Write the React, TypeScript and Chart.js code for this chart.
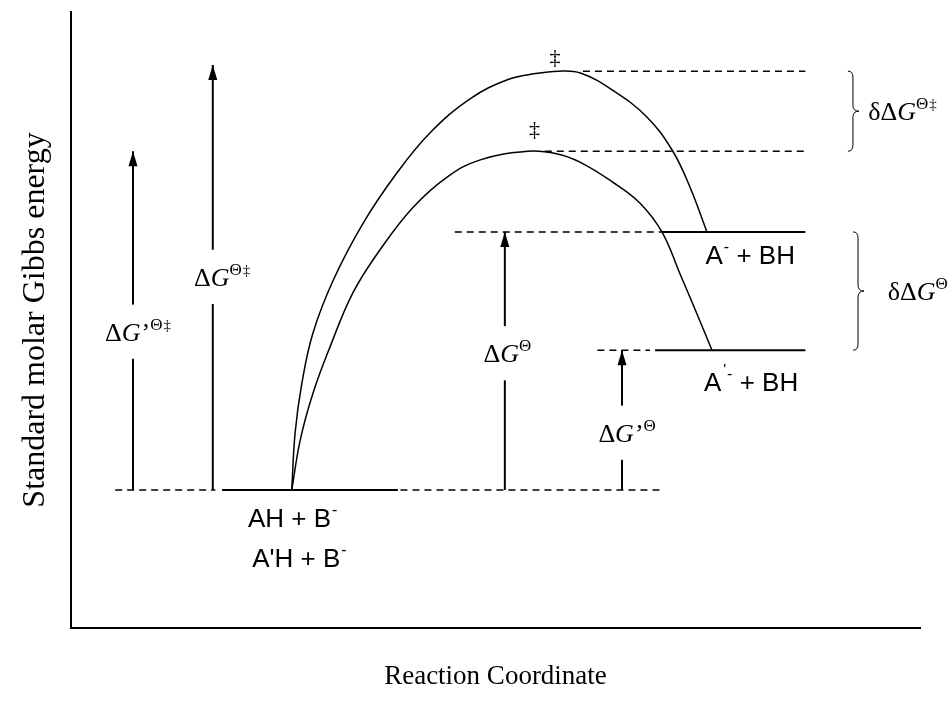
import React, { useEffect, useRef } from 'react';
import { Chart, registerables } from 'chart.js';

Chart.register(...registerables);

// ---- Data (arbitrary energy units on a 0–100 frame; x = reaction coordinate 0–100) ----
const reactantLevel = 22.4;            // AH + B⁻ / A'H + B⁻
const productLevels = [64.3, 45.1];    // A⁻ + BH, A'⁻ + BH
const tsLevels = [90.4, 77.4];         // transition states ‡ (A), ‡ (A')

// Reaction profile through the higher barrier (to A⁻ + BH)
const curveAX = [26.0, 26.4, 27.2, 28.5, 30.9, 34.4, 38.4, 42.3, 47.0, 51.4, 54.7, 57.4, 60.0, 63.8, 67.8, 70.8, 72.9, 74.9];
const curveAY = [22.4, 31.7, 39.8, 47.9, 56.5, 65.7, 73.9, 80.4, 85.9, 89.0, 90.0, 90.4, 90.1, 87.3, 83.0, 77.6, 71.6, 64.3];
// Reaction profile through the lower barrier (to A'⁻ + BH)
const curveBX = [26.0, 27.0, 28.5, 30.5, 33.2, 36.4, 40.3, 44.3, 48.2, 53.8, 57.2, 60.0, 63.8, 67.0, 69.6, 71.7, 73.7, 75.5];
const curveBY = [22.4, 30.5, 38.1, 45.6, 54.4, 61.4, 68.3, 73.2, 76.0, 77.4, 77.0, 75.6, 72.4, 69.0, 64.3, 57.6, 51.1, 45.1];

// Arrows: x position, top value, label centre
const arrowX = [7.3, 16.7, 51.1, 64.9];
const arrowTop = [tsLevels[1], 91.4, productLevels[0], productLevels[1]];
const arrowLabelY = [48.1, 57.0, 44.6, 31.7];
const arrowLabelX = [7.9, 17.8, 51.4, 65.5];

// ---- Layout of the level lines (x extents) ----
const levelSegments = [
  { y: reactantLevel, x0: 5.2, x1: 17.0, dashed: true },
  { y: reactantLevel, x0: 17.8, x1: 38.5, dashed: false },
  { y: reactantLevel, x0: 38.8, x1: 69.4, dashed: true },
  { y: productLevels[0], x0: 45.2, x1: 69.6, dashed: true },
  { y: productLevels[0], x0: 69.6, x1: 86.5, dashed: false },
  { y: productLevels[1], x0: 62.0, x1: 68.2, dashed: true },
  { y: productLevels[1], x0: 68.8, x1: 86.5, dashed: false },
  { y: tsLevels[0], x0: 60.3, x1: 86.5, dashed: true },
  { y: tsLevels[1], x0: 55.8, x1: 86.5, dashed: true },
];

const SERIF = '"Liberation Serif", "Times New Roman", serif';
const SANS = '"Liberation Sans", Arial, sans-serif';

type Part = { t: string; font: string; dy?: number; dx?: number };

function drawRich(ctx: CanvasRenderingContext2D, parts: Part[], x: number, baseline: number, align: 'center' | 'left') {
  const widths = parts.map((p) => {
    ctx.font = p.font;
    return ctx.measureText(p.t).width + (p.dx || 0);
  });
  const total = widths.reduce((a, b) => a + b, 0);
  let cx = align === 'center' ? x - total / 2 : x;
  ctx.textAlign = 'left';
  ctx.textBaseline = 'alphabetic';
  parts.forEach((p, i) => {
    ctx.font = p.font;
    ctx.fillText(p.t, cx + (p.dx || 0), baseline + (p.dy || 0));
    cx += widths[i];
  });
}

const gSize = 26;
const supTheta = (dy = -11): Part => ({ t: 'Θ', font: `17px ${SERIF}`, dy });
const supDagger = (dy = -11): Part => ({ t: '‡', font: `15px ${SERIF}`, dy, dx: 1 });
const D: Part = { t: 'Δ', font: `${gSize}px ${SERIF}` };
const G: Part = { t: 'G', font: `italic ${gSize}px ${SERIF}` };
const prime: Part = { t: '’', font: `${gSize}px ${SERIF}`, dx: 1 };

const arrowLabels: Part[][] = [
  [D, G, prime, supTheta(), supDagger()],
  [D, G, supTheta(), supDagger()],
  [D, G, supTheta()],
  [D, G, prime, supTheta()],
];

const sansFont = `26px ${SANS}`;
const supMinus: Part = { t: '-', font: `16px ${SANS}`, dy: -12, dx: 1 };

const speciesLabels: { x: number; y: number; parts: Part[] }[] = [
  { x: 26.1, y: 17.9, parts: [{ t: 'AH + B', font: sansFont }, supMinus] },
  { x: 26.9, y: 11.4, parts: [{ t: "A'H + B", font: sansFont }, supMinus] },
  { x: 80.0, y: 60.6, parts: [{ t: 'A', font: sansFont }, supMinus, { t: ' + BH', font: sansFont }] },
  {
    x: 80.1, y: 39.9, parts: [
      { t: 'A', font: sansFont },
      { t: "'", font: `15px ${SANS}`, dy: -17, dx: 2 },
      { t: '-', font: `16px ${SANS}`, dy: -12, dx: 1 },
      { t: ' + BH', font: sansFont },
    ],
  },
];

function drawBrace(ctx: CanvasRenderingContext2D, x0: number, y1: number, y2: number) {
  const ym = (y1 + y2) / 2;
  const h = 6;
  ctx.beginPath();
  ctx.moveTo(x0 - 5, y1);
  ctx.quadraticCurveTo(x0, y1, x0, y1 + h);
  ctx.lineTo(x0, ym - h);
  ctx.quadraticCurveTo(x0, ym, x0 + 6, ym);
  ctx.quadraticCurveTo(x0, ym, x0, ym + h);
  ctx.lineTo(x0, y2 - h);
  ctx.quadraticCurveTo(x0, y2, x0 - 5, y2);
  ctx.stroke();
}

const annotationPlugin = {
  id: 'annotations',
  afterDatasetsDraw(chart: any) {
    const { ctx } = chart;
    const xs = chart.scales.x;
    const ys = chart.scales.y;
    const px = (v: number) => xs.getPixelForValue(v);
    const py = (v: number) => ys.getPixelForValue(v);
    ctx.save();
    ctx.fillStyle = '#000';
    ctx.strokeStyle = '#000';

    // arrow heads
    arrowX.forEach((ax, i) => {
      const X = px(ax);
      const T = py(arrowTop[i]);
      ctx.beginPath();
      ctx.moveTo(X, T);
      ctx.lineTo(X - 4.5, T + 15);
      ctx.lineTo(X + 4.5, T + 15);
      ctx.closePath();
      ctx.fill();
    });

    // arrow labels
    arrowLabels.forEach((parts, i) => {
      drawRich(ctx, parts, px(arrowLabelX[i]), py(arrowLabelY[i]) + 9, 'center');
    });

    // double daggers over the transition states
    ctx.font = `22px ${SERIF}`;
    ctx.textAlign = 'center';
    ctx.textBaseline = 'middle';
    ctx.fillText('‡', px(57.0), py(tsLevels[0] + 2.1));
    ctx.fillText('‡', px(54.6), py(tsLevels[1] + 3.4));

    // species labels
    speciesLabels.forEach((l) => drawRich(ctx, l.parts, px(l.x), py(l.y) + 9, 'center'));

    // braces
    ctx.lineWidth = 1;
    drawBrace(ctx, px(92.1), py(tsLevels[0]), py(tsLevels[1]));
    drawBrace(ctx, px(92.7), py(productLevels[0]), py(productLevels[1]));

    const dd: Part = { t: 'δΔ', font: `${gSize}px ${SERIF}` };
    drawRich(ctx, [dd, G, supTheta(), supDagger()], px(93.9), py((tsLevels[0] + tsLevels[1]) / 2) + 9, 'left');
    drawRich(ctx, [dd, G, supTheta()], px(96.2), py((productLevels[0] + productLevels[1]) / 2) + 9, 'left');

    ctx.restore();
  },
};

function seg(x0: number, y0: number, x1: number, y1: number, dashed: boolean, width: number) {
  return {
    data: [{ x: x0, y: y0 }, { x: x1, y: y1 }],
    borderColor: '#000',
    borderWidth: width,
    borderDash: dashed ? [7, 5] : [],
    pointRadius: 0,
    fill: false,
    tension: 0,
  };
}

export default function App() {
  const canvasRef = useRef<HTMLCanvasElement | null>(null);

  useEffect(() => {
    if (!canvasRef.current) return;
    const curve = (xs: number[], ys: number[]) => ({
      data: xs.map((x, i) => ({ x, y: ys[i] })),
      borderColor: '#000',
      borderWidth: 1.5,
      pointRadius: 0,
      fill: false,
      tension: 0.4,
    });

    const datasets: any[] = [curve(curveAX, curveAY), curve(curveBX, curveBY)];
    levelSegments.forEach((s) => datasets.push(seg(s.x0, s.y, s.x1, s.y, s.dashed, s.dashed ? 1.5 : 2)));
    const gap = 4.4;
    arrowX.forEach((ax, i) => {
      datasets.push(seg(ax, reactantLevel, ax, arrowLabelY[i] - gap, false, 2));
      datasets.push(seg(ax, arrowLabelY[i] + gap, ax, arrowTop[i], false, 2));
    });

    const chart = new Chart(canvasRef.current, {
      type: 'line',
      data: { datasets },
      options: {
        animation: false,
        responsive: false,
        devicePixelRatio: 1,
        events: [],
        layout: { padding: { top: 12, right: 32, left: 0, bottom: 0 } },
        plugins: { legend: { display: false }, tooltip: { enabled: false } },
        elements: { line: { capBezierPoints: false } },
        scales: {
          x: {
            type: 'linear',
            min: 0,
            max: 100,
            grid: { display: false, drawTicks: false },
            ticks: { display: false },
            border: { display: true, color: '#000', width: 2 },
            title: {
              display: true,
              text: 'Reaction Coordinate',
              color: '#000',
              font: { family: SERIF, size: 27 },
              padding: { top: 0, bottom: 12 },
            },
            afterFit: (s: any) => { s.height = 77; },
          },
          y: {
            type: 'linear',
            min: 0,
            max: 100,
            grid: { display: false, drawTicks: false },
            ticks: { display: false },
            border: { display: true, color: '#000', width: 2 },
            title: {
              display: true,
              text: 'Standard molar Gibbs energy',
              color: '#000',
              font: { family: SERIF, size: 32 },
              padding: { top: 16, bottom: 0 },
            },
            afterFit: (s: any) => { s.width = 71; },
          },
        },
      },
      plugins: [annotationPlugin],
    });
    return () => chart.destroy();
  }, []);

  return (
    <div style={{ position: 'fixed', left: 0, top: 0, width: 952, height: 705, background: '#fff' }}>
      <canvas ref={canvasRef} width={952} height={705} style={{ display: 'block', width: 952, height: 705 }} />
    </div>
  );
}
